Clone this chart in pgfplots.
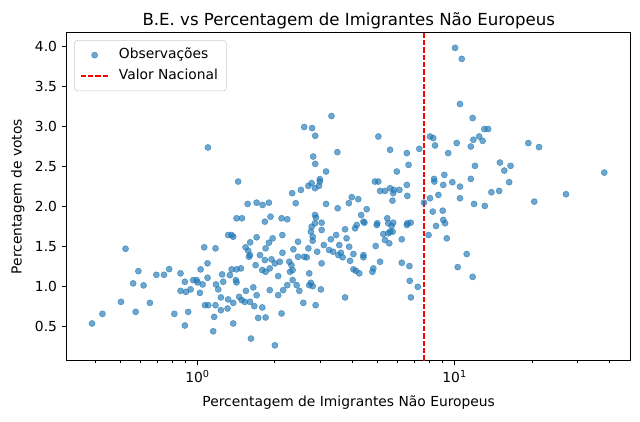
\documentclass[border=0pt]{standalone}
\usepackage{fontspec}
\setmainfont{DejaVu Sans}
\usepackage{pgfplots}
\pgfplotsset{compat=1.18}
\usepackage{pgfplotstable}
\definecolor{c0}{RGB}{31,119,180}
\pgfplotsset{
  scatterlegend/.style={legend image code/.code={\draw[##1] plot coordinates {(10pt,0pt)};}},
  linelegend/.style={legend image code/.code={\draw[##1] (0pt,0pt) -- (20pt,0pt);}},
}
\pgfplotstableread{
x y
0.389 0.543
0.427 0.663
0.504 0.813
0.575 0.688
0.525 1.475
0.562 1.043
0.589 1.196
0.617 1.018
0.653 0.800
0.692 1.150
0.741 1.150
0.776 1.221
0.813 0.663
0.859 1.168
0.859 0.950
0.893 1.063
0.902 0.938
0.920 0.688
0.893 0.518
0.940 0.968
0.962 1.084
0.992 1.084
1.001 1.055
1.028 1.218
1.047 1.030
1.022 0.925
1.062 1.493
1.094 1.293
1.094 1.113
1.069 0.771
1.101 0.771
1.175 1.480
1.180 1.030
1.204 0.968
1.161 0.625
1.151 0.446
1.175 0.771
1.233 0.868
1.233 0.709
1.247 1.155
1.259 1.063
1.309 0.730
1.316 1.646
1.358 1.646
1.377 1.625
1.337 1.146
1.358 1.218
1.377 0.543
1.410 1.084
1.419 1.055
1.419 1.855
1.489 1.855
1.439 2.313
1.419 1.218
1.475 1.230
1.316 0.843
1.377 0.800
1.452 0.875
1.486 0.834
1.543 0.950
1.528 0.813
1.600 0.813
1.567 2.034
1.538 1.493
1.575 1.450
1.600 1.396
1.585 1.375
1.603 1.555
1.698 2.050
1.683 1.271
1.648 0.993
1.698 0.896
1.663 0.759
1.614 0.355
1.722 0.613
1.698 1.618
1.098 2.738
2.600 2.993
2.790 2.980
2.870 2.884
3.320 3.130
2.818 2.625
2.870 2.534
3.500 2.680
3.162 2.438
2.990 2.343
5.050 2.875
5.610 2.709
6.520 2.668
7.290 2.721
6.620 2.521
5.960 2.438
8.020 2.875
8.260 2.855
8.390 2.763
8.320 2.346
9.120 2.396
9.440 2.668
1.791 2.021
1.896 2.050
2.335 2.168
2.524 2.209
2.698 2.259
2.779 2.293
2.864 2.230
2.990 2.313
2.970 2.259
2.410 2.043
3.162 2.034
3.510 1.980
3.880 2.043
3.980 2.118
4.220 2.093
4.900 2.313
5.050 2.313
5.130 2.196
5.360 2.196
5.610 2.230
5.810 2.209
5.770 2.168
6.100 2.209
6.520 2.271
5.730 2.075
6.550 2.134
7.600 2.050
8.020 2.105
8.650 2.146
8.220 1.938
8.340 2.313
9.030 2.271
8.990 1.950
9.030 1.834
9.180 1.793
8.470 1.759
9.320 1.605
7.920 1.646
1.828 1.813
1.923 1.875
2.123 1.855
2.234 1.843
2.864 1.896
2.890 1.863
2.864 1.793
3.040 1.800
2.779 1.750
3.040 1.709
2.760 1.688
2.805 1.625
2.805 1.575
2.138 1.646
1.960 1.605
1.896 1.550
1.840 1.480
1.750 1.396
1.828 1.334
1.940 1.343
2.000 1.293
1.786 1.209
1.840 1.188
1.910 1.230
2.140 1.425
2.090 1.313
2.275 1.313
2.320 1.271
2.344 1.209
2.290 1.188
2.060 1.134
2.460 1.563
2.360 1.468
2.460 1.375
2.600 1.375
2.660 1.368
2.698 1.480
2.920 1.438
3.040 1.293
2.720 1.168
3.100 1.521
3.250 1.459
3.370 1.438
3.300 1.593
3.460 1.646
3.560 1.521
3.800 1.605
3.750 1.718
3.530 1.396
3.670 1.368
3.610 1.425
3.920 1.325
3.890 1.500
4.040 1.409
4.100 1.730
4.160 1.771
4.420 1.813
4.330 1.896
4.550 1.968
4.460 1.800
4.420 1.396
4.420 1.368
4.040 1.218
4.130 1.200
4.260 1.168
4.830 1.230
4.790 1.188
5.130 1.313
4.930 1.509
5.000 1.793
4.980 1.771
5.470 1.855
5.520 1.793
5.770 1.800
5.690 1.759
5.520 1.668
5.610 1.688
5.280 1.659
5.360 1.584
5.570 1.543
5.740 1.688
6.230 1.593
6.550 1.793
6.750 1.800
6.520 1.771
6.230 1.300
6.670 1.259
6.690 1.075
7.190 1.000
6.760 0.868
1.786 0.743
1.840 0.618
2.000 0.271
2.123 0.668
1.910 0.959
2.060 0.896
2.153 0.959
2.234 1.021
2.430 1.021
2.490 0.950
2.344 1.084
2.720 1.021
2.760 1.050
2.805 1.009
3.020 0.968
2.580 0.800
2.880 0.771
3.750 0.868
10.04 3.980
10.66 3.843
10.49 3.280
11.75 3.105
13.05 2.968
13.50 2.968
11.83 2.834
12.46 2.875
12.85 2.821
11.56 2.750
10.19 2.793
19.35 2.793
21.30 2.743
12.00 2.509
15.00 2.550
15.60 2.450
16.50 2.509
16.30 2.305
9.800 2.305
10.49 2.250
11.56 2.346
13.90 2.180
14.90 2.196
10.49 2.105
11.90 2.034
13.10 2.009
20.40 2.063
27.10 2.155
38.20 2.425
11.14 1.409
10.28 1.246
11.75 1.125
}\obs
\begin{document}
\begin{tikzpicture}
\useasboundingbox (-48.2pt,-44.3pt) rectangle (414.3pt,260.6pt);
\begin{axis}[
  scale only axis,
  width=407.6pt, height=237pt,
  xmode=log,
  xmin=0.31, xmax=48.4,
  ymin=0.08, ymax=4.17,
  xtick={1,10},
  xticklabels={10\textsuperscript{0},10\textsuperscript{1}},
  minor xtick={0.4,0.5,0.6,0.7,0.8,0.9,2,3,4,5,6,7,8,9,20,30,40},
  ytick={0.5,1.0,1.5,2.0,2.5,3.0,3.5,4.0},
  yticklabel={\pgfmathprintnumber[fixed,fixed zerofill,precision=1]{\tick}},
  /pgf/number format/assume math mode=true,
  xtick pos=left, ytick pos=left,
  tick align=outside,
  major tick length=3.5pt, minor tick length=2pt,
  every tick/.style={black, line width=0.8pt},
  minor tick style={line width=0.6pt},
  axis line style={line width=0.8pt},
  ticklabel style={font=\fontsize{10}{12}\selectfont},
  title={B.E. vs Percentagem de Imigrantes Não Europeus},
  title style={yshift=-7.2pt, font=\fontsize{12}{14.4}\selectfont},
  xlabel={Percentagem de Imigrantes Não Europeus},
  ylabel={Percentagem de votos},
  every axis x label/.style={at={(axis description cs:0.5,-0.141)}, anchor=base, font=\fontsize{10}{12}\selectfont},
  every axis y label/.style={at={(axis description cs:-0.0797,0.5)}, rotate=90, anchor=base, font=\fontsize{10}{12}\selectfont},
  legend cell align=left,
  legend style={at={(axis description cs:0.0135,0.977)}, anchor=north west,
    draw=black!20, rounded corners=2pt, inner xsep=4pt, inner ysep=3pt,
    column sep=5pt,
    font=\fontsize{10}{12}\selectfont,
    nodes={text height=7.5pt, text depth=2.5pt, inner ysep=2.6pt}},
]
\addplot[only marks, mark=*, mark size=2.2pt,
  mark options={draw=c0, fill=c0, opacity=0.65, line width=0.4pt},
  scatterlegend]
  table[x=x, y=y] {\obs};
\addlegendentry{Observações}
\addplot[red, line width=1pt, dash pattern=on 3.7pt off 1.6pt, linelegend]
  coordinates {(7.6,0.08) (7.6,4.17)};
\addlegendentry{Valor Nacional}
\end{axis}
\end{tikzpicture}
\end{document}
